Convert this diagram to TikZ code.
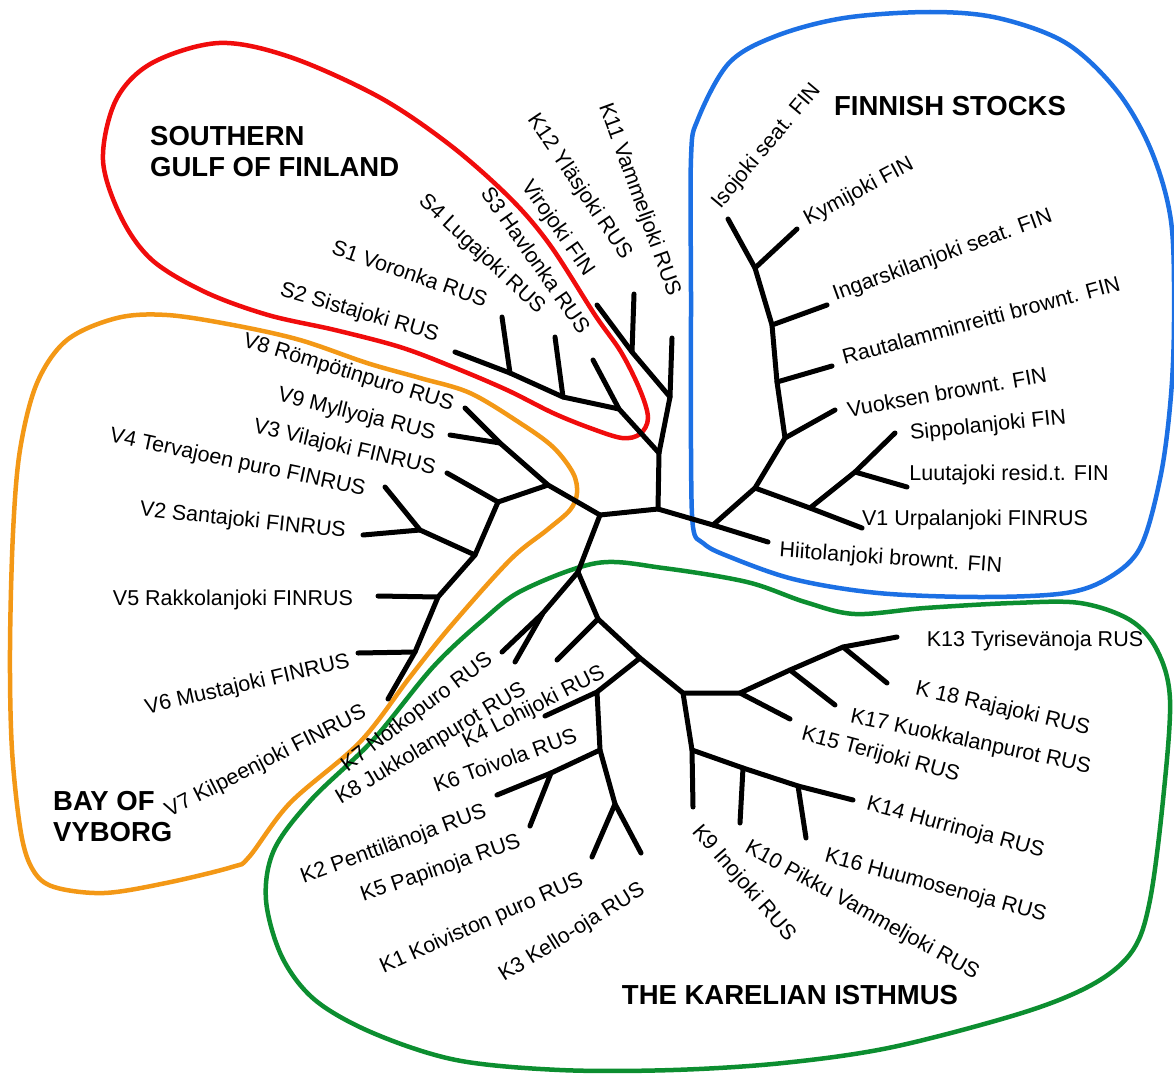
\documentclass[tikz,border=0pt]{standalone}
\usepackage{fontspec}
\setmainfont{Liberation Sans}

\newcommand{\labfont}{\fontsize{21.5}{24}\selectfont}
\newcommand{\grpfont}{\fontsize{27.5}{31}\selectfont\bfseries}

\definecolor{hullred}{RGB}{240,12,12}
\definecolor{hullorange}{RGB}{243,152,22}
\definecolor{hullblue}{RGB}{28,112,228}
\definecolor{hullgreen}{RGB}{12,142,48}

\begin{document}
\begin{tikzpicture}[
  x=1pt, y=-1pt,
  br/.style={line width=5pt, line cap=round, line join=round},
  hull/.style={line width=4.5pt, line join=round},
  lab/.style={font=\labfont, inner sep=0pt, text height=15.4pt, text depth=0pt},
  grp/.style={font=\grpfont, align=left, inner sep=0pt},
]
\useasboundingbox (0,0) rectangle (1174,1073);

% group outlines
\draw[hull, hullred] plot[smooth cycle, tension=0.55] coordinates {
  (219,43) (290,57) (379,97) (450,145) (510,198) (550,245) (595,315)
  (621,352) (640,390) (648,418) (640,434) (622,438) (590,428) (553,413)
  (507,390) (453,367) (400,347) (335,330) (268,315) (205,292) (152,260)
  (121,217) (103,160) (116,100) (152,63)};
\draw[hull, hullorange] plot[smooth cycle, tension=0.55] coordinates {
  (117,318) (167,315) (233,325) (300,340) (367,363) (420,378) (470,393)
  (520,423) (553,447) (573,473) (577,493) (570,510) (547,530) (510,560)
  (450,627) (410,677) (360,742) (290,803) (249,857) (232,867) (166,883)
  (104,893) (54,887) (33,870) (21,833) (12,750) (10,650) (13,533)
  (20,450) (37,383) (67,340)};
\draw[hull, hullblue] plot[smooth cycle, tension=0.55] coordinates {
  (691,158) (698,119) (729,63) (776,36) (844,18) (930,12) (998,18)
  (1066,43) (1117,91) (1151,150) (1171,221) (1174,316) (1171,395)
  (1161,474) (1141,546) (1110,577) (1066,593) (981,597) (878,593)
  (793,579) (725,555) (703,543) (693,527) (691,450) (691,300)};
\draw[hull, hullgreen] plot[smooth cycle, tension=0.55] coordinates {
  (597,563) (663,568) (747,582) (805,602) (855,614) (925,608)
  (1013,603) (1080,603) (1130,620) (1157,650) (1170,700) (1163,800)
  (1150,900) (1133,950) (1095,983) (1025,1012) (893,1047) (783,1063)
  (673,1070) (560,1070) (456,1060) (373,1033) (315,1000) (282,957)
  (266,900) (274,850) (311,800) (373,740) (433,667) (483,620) (523,590)};

% inner nodes of the tree
\coordinate (A) at (600,515);
\coordinate (B) at (658,509);
\coordinate (C) at (659,453);
\coordinate (D) at (670,397);
\coordinate (E) at (632,352);
\coordinate (F) at (619,409);
\coordinate (G) at (563,397);
\coordinate (H) at (510,373);
\coordinate (I) at (548,485);
\coordinate (J) at (500,443);
\coordinate (K) at (498,502);
\coordinate (L) at (475,555);
\coordinate (M) at (420,530);
\coordinate (N) at (438,597);
\coordinate (O) at (415,652);
\coordinate (P) at (578,572);
\coordinate (Q) at (543,613);
\coordinate (R) at (598,619);
\coordinate (S) at (640,658);
\coordinate (T) at (597,692);
\coordinate (U) at (600,750);
\coordinate (V) at (551,773);
\coordinate (W) at (615,804);
\coordinate (X) at (683,693);
\coordinate (Y) at (740,693);
\coordinate (Z) at (692,750);
\coordinate (Za) at (743,768);
\coordinate (Zb) at (798,786);
\coordinate (AA) at (790,670);
\coordinate (AB) at (843,647);
\coordinate (BA) at (713,525);
\coordinate (BB) at (755,488);
\coordinate (BC) at (785,438);
\coordinate (BD) at (777,382);
\coordinate (BE) at (772,325);
\coordinate (BF) at (755,268);
\coordinate (BG) at (810,508);
\coordinate (BH) at (855,472);

% leaf tips
\coordinate (lK11) at (672,338);
\coordinate (lK12) at (597,305);
\coordinate (lViro) at (634,294);
\coordinate (lS3) at (593,360);
\coordinate (lS4) at (555,337);
\coordinate (lS1) at (502,317);
\coordinate (lS2) at (455,352);
\coordinate (lV8) at (465,408);
\coordinate (lV9) at (450,435);
\coordinate (lV3) at (447,473);
\coordinate (lV4) at (385,487);
\coordinate (lV2) at (363,535);
\coordinate (lV5) at (378,596);
\coordinate (lV6) at (358,653);
\coordinate (lV7) at (388,699);
\coordinate (lK7) at (502,652);
\coordinate (lK8) at (515,662);
\coordinate (lK4) at (557,660);
\coordinate (lK6) at (545,716);
\coordinate (lK2) at (497,795);
\coordinate (lK5) at (530,826);
\coordinate (lK1) at (592,857);
\coordinate (lK3) at (641,853);
\coordinate (lK9) at (693,807);
\coordinate (lK10) at (740,823);
\coordinate (lK16) at (806,838);
\coordinate (lK14) at (853,800);
\coordinate (lK15) at (790,719);
\coordinate (lK17) at (835,705);
\coordinate (lK18) at (887,683);
\coordinate (lK13) at (897,637);
\coordinate (lHiit) at (768,542);
\coordinate (lV1) at (862,528);
\coordinate (lSipp) at (895,433);
\coordinate (lLuut) at (907,487);
\coordinate (lVuok) at (835,410);
\coordinate (lRaut) at (832,366);
\coordinate (lInga) at (827,305);
\coordinate (lKymi) at (797,229);
\coordinate (lIsoj) at (728,219);

% branches
\draw[br] (A) -- (B) -- (BA) -- (lHiit);
\draw[br] (B) -- (C) -- (D) -- (lK11);
\draw[br] (D) -- (E) -- (lK12);
\draw[br] (E) -- (lViro);
\draw[br] (C) -- (F) -- (lS3);
\draw[br] (F) -- (G) -- (lS4);
\draw[br] (G) -- (H) -- (lS1);
\draw[br] (H) -- (lS2);
\draw[br] (A) -- (I) -- (J) -- (lV8);
\draw[br] (J) -- (lV9);
\draw[br] (I) -- (K) -- (lV3);
\draw[br] (K) -- (L) -- (M) -- (lV4);
\draw[br] (M) -- (lV2);
\draw[br] (L) -- (N) -- (lV5);
\draw[br] (N) -- (O) -- (lV6);
\draw[br] (O) -- (lV7);
\draw[br] (A) -- (P) -- (Q) -- (lK8);
\draw[br] (Q) -- (lK7);
\draw[br] (P) -- (R) -- (lK4);
\draw[br] (R) -- (S) -- (T) -- (lK6);
\draw[br] (T) -- (U) -- (V) -- (lK2);
\draw[br] (V) -- (lK5);
\draw[br] (U) -- (W) -- (lK1);
\draw[br] (W) -- (lK3);
\draw[br] (S) -- (X) -- (Y) -- (lK15);
\draw[br] (Y) -- (AA) -- (lK17);
\draw[br] (AA) -- (AB) -- (lK18);
\draw[br] (AB) -- (lK13);
\draw[br] (X) -- (Z) -- (lK9);
\draw[br] (Z) -- (Za) -- (Zb) -- (lK14);
\draw[br] (Za) -- (lK10);
\draw[br] (Zb) -- (lK16);
\draw[br] (BA) -- (BB) -- (BG) -- (lV1);
\draw[br] (BG) -- (BH) -- (lSipp);
\draw[br] (BH) -- (lLuut);
\draw[br] (BB) -- (BC) -- (lVuok);
\draw[br] (BC) -- (BD) -- (lRaut);
\draw[br] (BD) -- (BE) -- (lInga);
\draw[br] (BE) -- (BF) -- (lKymi);
\draw[br] (BF) -- (lIsoj);

% stock names
\node[lab, rotate=-70] (tK11) at (641,199) {K11 Vammeljoki RUS};
\node[lab, rotate=-56] (tK12) at (581,186) {K12 Yläsjoki RUS};
\node[lab, rotate=-55] (tViro) at (559,227) {Virojoki FIN};
\node[lab, rotate=-55] (tS3) at (536,260) {S3 Havlonka RUS};
\node[lab, rotate=-43] (tS4) at (483,253) {S4 Lugajoki RUS};
\node[lab, rotate=-19] (tS1) at (410,273) {S1 Voronka RUS};
\node[lab, rotate=-16] (tS2) at (360,311) {S2 Sistajoki RUS};
\node[lab, rotate=-17] (tV8) at (349,371) {V8 Römpötinpuro RUS};
\node[lab, rotate=-14] (tV9) at (357,413) {V9 Myllyoja RUS};
\node[lab, rotate=-13] (tV3) at (345,446) {V3 Vilajoki FINRUS};
\node[lab, rotate=-12] (tV4) at (238,461) {V4 Tervajoen puro FINRUS};
\node[lab, rotate=-6] (tV2) at (243,519) {V2 Santajoki FINRUS};
\node[lab] (tV5) at (233,598) {V5 Rakkolanjoki FINRUS};
\node[lab, rotate=13] (tV6) at (247,683) {V6 Mustajoki FINRUS};
\node[lab, rotate=27] (tV7) at (265,760) {V7 Kilpeenjoki FINRUS};
\node[lab, rotate=37] (tK7) at (416,711) {K7 Notkopuro RUS};
\node[lab, rotate=31] (tK8) at (430,742) {K8 Jukkolanpurot RUS};
\node[lab, rotate=27] (tK4) at (533,706) {K4 Lohijoki RUS};
\node[lab, rotate=20] (tK6) at (505,760) {K6 Toivola RUS};
\node[lab, rotate=20] (tK2) at (393,843) {K2 Penttilänoja RUS};
\node[lab, rotate=19] (tK5) at (440,867) {K5 Papinoja RUS};
\node[lab, rotate=24] (tK1) at (481,922) {K1 Koiviston puro RUS};
\node[lab, rotate=32] (tK3) at (571,931) {K3 Kello-oja RUS};
\node[lab, rotate=-49] (tK9) at (745,882) {K9 Inojoki RUS};
\node[lab, rotate=-29] (tK10) at (863,909) {K10 Pikku Vammeljoki RUS};
\node[lab, rotate=-15] (tK16) at (936,884) {K16 Huumosenoja RUS};
\node[lab, rotate=-15] (tK14) at (956,826) {K14 Hurrinoja RUS};
\node[lab, rotate=-15] (tK15) at (881,753) {K15 Terijoki RUS};
\node[lab, rotate=-12] (tK17) at (971,740) {K17 Kuokkalanpurot RUS};
\node[lab, rotate=-13] (tK18) at (1003,707) {K 18 Rajajoki RUS};
\node[lab] (tK13) at (1035,639) {K13 Tyrisevänoja RUS};
\node[lab, rotate=-4] (tHiit) at (891,557) {Hiitolanjoki brownt. FIN};
\node[lab] (tV1) at (975,518) {V1 Urpalanjoki FINRUS};
\node[lab] (tLuut) at (1009,473) {Luutajoki resid.t. FIN};
\node[lab, rotate=6] (tSipp) at (988,424) {Sippolanjoki FIN};
\node[lab, rotate=10] (tVuok) at (947,392) {Vuoksen brownt. FIN};
\node[lab, rotate=15] (tRaut) at (981,320) {Rautalamminreitti brownt. FIN};
\node[lab, rotate=20] (tInga) at (942,254) {Ingarskilanjoki seat. FIN};
\node[lab, rotate=28] (tKymi) at (858,190) {Kymijoki FIN};
\node[lab, rotate=50] (tIsoj) at (765,145) {Isojoki seat. FIN};

% group names
\node[grp, anchor=west] (gSouth) at (150,152) {SOUTHERN\\GULF OF FINLAND};
\node[grp] (gFin) at (950,106) {FINNISH STOCKS};
\node[grp, anchor=west] (gBay) at (53,817) {BAY OF\\VYBORG};
\node[grp] (gKar) at (790,995) {THE KARELIAN ISTHMUS};
\end{tikzpicture}
\end{document}
